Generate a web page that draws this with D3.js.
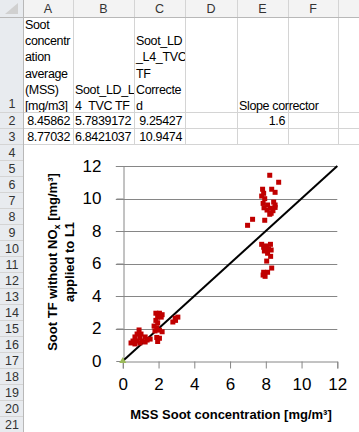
<!DOCTYPE html>
<html><head><meta charset="utf-8">
<script src="https://cdn.jsdelivr.net/npm/d3@7"></script>
<style>html,body{margin:0;padding:0;background:#fff;overflow:hidden}svg{display:block}</style>
</head><body>
<script>
// ---- data ----
const colLetters = ["A","B","C","D","E","F"];
const headerA = ["Soot","concentr","ation","average","(MSS)","[mg/m3]"];
const headerB = ["Soot_LD_L","4_TVC TF"];
const headerC = ["Soot_LD","_L4_TVC","TF","Correcte","d"];
const headerE = ["Slope corrector"];
const row2 = ["8.45862","5.7839172","9.25427","","1.6"];
const row3 = ["8.77032","6.8421037","10.9474","",""];
const xTicks = [0,2,4,6,8,10,12];
const yTicks = [0,2,4,6,8,10,12];
const mssX = [0.91,0.80,1.02,0.68,0.96,1.25,0.57,0.80,1.08,1.36,1.53,0.46,0.68,0.96,1.25,
  1.85,2.05,2.2,1.95,2.15,1.85,1.95,1.75,1.9,1.8,2.05,2.2,1.9,2.05,1.95,
  2.93,3.08,2.8,2.95,
  8.22,8.72,8.33,8.52,7.82,7.88,7.77,7.94,7.85,8.44,8.52,7.9,8.07,8.26,8.40,8.22,8.3,7.26,7.94,6.98,8.52,8.1,
  7.77,8.26,7.88,8.03,8.3,7.92,8.1,8.27,8.05,8.33,7.88,8.1,7.96,7.85,8.15];
const sootTF = [1.91,1.66,1.66,1.48,1.42,1.48,1.23,1.23,1.23,1.29,1.35,1.11,1.05,1.11,1.17,
  2.94,2.94,2.85,2.7,2.7,2.5,2.35,2.15,2.05,1.85,1.9,1.8,1.45,1.4,1.2,
  2.63,2.7,2.4,2.5,
  11.43,11.0,10.57,10.38,10.57,10.32,10.15,9.99,9.70,9.78,9.6,9.43,9.29,9.4,9.25,9.03,9.09,8.72,8.66,8.35,9.45,9.6,
  7.18,7.18,7.0,7.08,6.83,6.77,6.63,6.44,6.15,5.72,5.46,5.46,5.21,5.29,6.9];
const refLineX = [0,12];
const refLineY = [0,12];

// ---- sheet ----
const W=359,H=432;
const svg=d3.select("body").append("svg").attr("width",W).attr("height",H);
const font="'Liberation Sans', Arial, sans-serif";
const colEdges=[23,73,134,185,237,288,338,390];
const rowEdges=[17,112,128,144];
for(let i=0;i<18;i++) rowEdges.push(144+16*(i+1));
const gridC="#d4d4d4";
svg.append("rect").attr("x",0).attr("y",0).attr("width",W).attr("height",17).attr("fill","#f3f3f3");
svg.append("rect").attr("x",0).attr("y",0).attr("width",23).attr("height",H).attr("fill","#e8ebef");
svg.append("path").attr("d","M5,14 L18,14 L18,3 Z").attr("fill","#d0d0d0");
colEdges.forEach(x=>svg.append("line").attr("x1",x+0.5).attr("x2",x+0.5).attr("y1",0).attr("y2",H).attr("stroke",gridC));
rowEdges.forEach(y=>svg.append("line").attr("x1",0).attr("x2",W).attr("y1",y+0.5).attr("y2",y+0.5).attr("stroke",gridC));
svg.append("line").attr("x1",0).attr("x2",W).attr("y1",17.5).attr("y2",17.5).attr("stroke","#b8b8b8");
svg.append("line").attr("x1",23.5).attr("x2",23.5).attr("y1",0).attr("y2",H).attr("stroke","#b8b8b8");
colLetters.forEach((c,i)=>svg.append("text").attr("x",(colEdges[i]+colEdges[i+1])/2).attr("y",13).attr("text-anchor","middle")
  .attr("font-family",font).attr("font-size",12.5).attr("fill","#333").text(c));
for(let r=1;r<=21;r++){
  const y0=rowEdges[r-1],y1=rowEdges[r];
  svg.append("text").attr("x",12).attr("y",r===1?y1-4:(y0+y1)/2+4.5).attr("text-anchor","middle")
    .attr("font-family",font).attr("font-size",12.5).attr("fill","#333").text(r);
}
const defs=svg.append("defs");
function clipFor(ci,ri){
  const id=`c${ci}_${ri}`;
  defs.append("clipPath").attr("id",id).append("rect").attr("x",colEdges[ci]+1).attr("y",rowEdges[ri-1]+1)
    .attr("width",colEdges[ci+1]-colEdges[ci]-1).attr("height",rowEdges[ri]-rowEdges[ri-1]-1);
  return `url(#${id})`;
}
const cs=12.5, ls=-0.35;
function lines(arr,ci,lastBaseline,clip){
  const gg=svg.append("g"); if(clip) gg.attr("clip-path",clipFor(ci,1));
  arr.forEach((t,i)=>gg.append("text").attr("x",colEdges[ci]+2).attr("y",lastBaseline-16.2*(arr.length-1-i))
    .attr("font-family",font).attr("font-size",cs).attr("letter-spacing",ls).attr("fill","#000").text(t));
}
lines(headerA,0,110,true);lines(headerB,1,110,true);lines(headerC,2,110,true);lines(headerE,4,110,false);
[row2,row3].forEach((row,ri)=>{
  row.forEach((v,ci)=>{ if(!v) return;
    svg.append("g").attr("clip-path",clipFor(ci,ri+2)).append("text").attr("x",colEdges[ci+1]-3).attr("y",125+16*ri).attr("text-anchor","end")
      .attr("font-family",font).attr("font-size",cs).attr("letter-spacing",ls).attr("fill","#000").text(v);});
});

// ---- chart ----
svg.append("rect").attr("x",24).attr("y",145).attr("width",W-24).attr("height",H-145).attr("fill","#fff");
const x=d3.scaleLinear().domain([0,12]).range([122.8,337.3]);
const y=d3.scaleLinear().domain([0,12]).range([361,166]);
const g=svg.append("g");
g.selectAll(".gl").data(yTicks.filter(d=>d>0)).join("line").attr("x1",x(0)-7).attr("x2",x(12))
  .attr("y1",d=>Math.round(y(d))+0.5).attr("y2",d=>Math.round(y(d))+0.5).attr("stroke","#868686").attr("stroke-width",1);
const ya=g.append("g").attr("transform",`translate(${Math.round(x(0))+0.5},0)`)
  .call(d3.axisLeft(y).tickValues(yTicks).tickSize(7).tickPadding(15));
ya.select(".domain").attr("stroke","#868686");
ya.selectAll(".tick line").attr("stroke","#868686");
ya.selectAll("text").attr("font-family",font).attr("font-size",17).attr("fill","#000");
const xa=g.append("g").attr("transform",`translate(0,${Math.round(y(0))+0.5})`)
  .call(d3.axisBottom(x).tickValues(xTicks).tickSize(7).tickPadding(15));
xa.select(".domain").attr("stroke","#868686");
xa.selectAll(".tick line").attr("stroke","#868686");
xa.selectAll("text").attr("font-family",font).attr("font-size",17).attr("fill","#000").attr("dy","0.4em");
g.append("path").datum(refLineX.map((d,i)=>[d,refLineY[i]]))
  .attr("d",d3.line().x(d=>x(d[0])).y(d=>y(d[1]))).attr("stroke","#000").attr("stroke-width",2).attr("fill","none");
g.append("path").attr("d",d3.symbol(d3.symbolTriangle,22)()).attr("transform",`translate(${x(refLineX[0])},${y(refLineY[0])})`)
  .attr("fill","#9bbb59");
g.selectAll(".pt").data(mssX.map((d,i)=>[d,sootTF[i]])).join("rect")
  .attr("x",d=>x(d[0])-2.5).attr("y",d=>y(d[1])-2.5).attr("width",5).attr("height",5).attr("fill","#c00000");
g.append("text").attr("x",231).attr("y",419).attr("text-anchor","middle").attr("font-family",font)
  .attr("font-weight","bold").attr("font-size",13).attr("fill","#000").text("MSS Soot concentration [mg/m³]");
const yt=g.append("text").attr("transform","translate(57,262) rotate(-90)").attr("text-anchor","middle")
  .attr("font-family",font).attr("font-weight","bold").attr("font-size",13).attr("fill","#000");
yt.append("tspan").text("Soot TF without NO");
yt.append("tspan").attr("font-size",9).attr("dy",3).text("x");
yt.append("tspan").attr("dy",-3).text(" [mg/m³]");
g.append("text").attr("transform","translate(74,262) rotate(-90)").attr("text-anchor","middle")
  .attr("font-family",font).attr("font-weight","bold").attr("font-size",13).attr("fill","#000").text("applied to L1");
</script>
</body></html>
